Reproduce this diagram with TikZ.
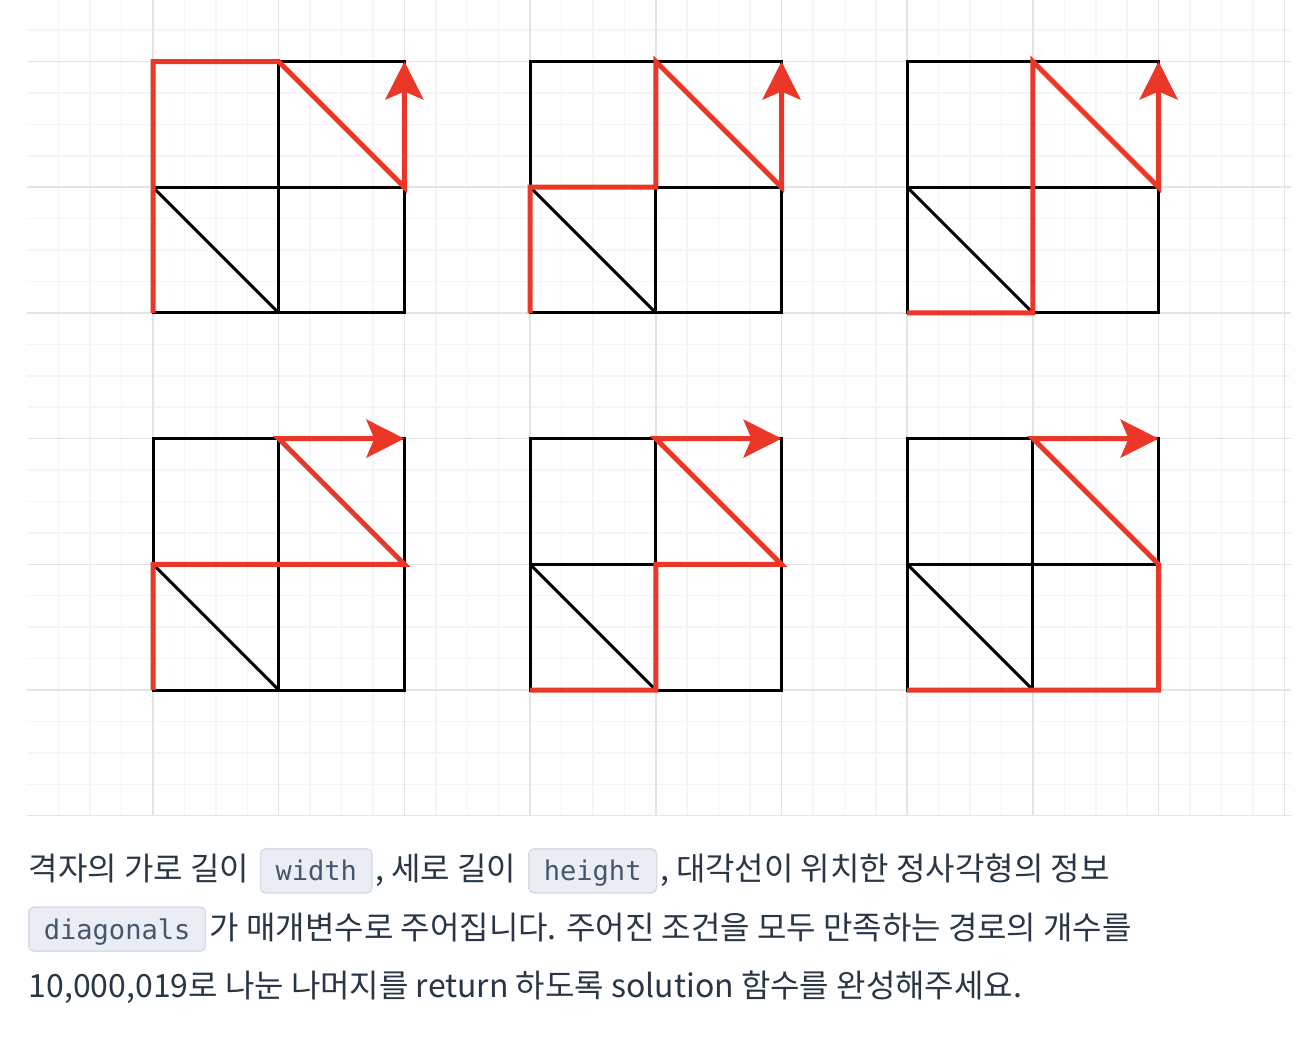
\documentclass[tikz,border=0pt]{standalone}
\usepackage{fontspec}
\usepackage{xcolor}
\usetikzlibrary{arrows.meta,positioning}
\setmainfont{Noto Sans CJK KR}
\setmonofont{DejaVu Sans Mono}

\definecolor{gridminor}{RGB}{245,245,245}
\definecolor{gridmajor}{RGB}{228,228,228}
\definecolor{routered}{RGB}{234,55,40}
\definecolor{ink}{RGB}{40,54,70}
\definecolor{codeink}{RGB}{68,87,108}
\definecolor{codefill}{RGB}{234,237,243}
\definecolor{codeline}{RGB}{214,221,231}

\tikzset{
  minor/.style={draw=gridminor, line width=0.015cm},
  major/.style={draw=gridmajor, line width=0.015cm},
  edge/.style={draw=black, line width=0.03cm},
  route/.style={draw=routered, line width=0.05cm},
  tip/.style={-{Stealth[length=0.38cm,width=0.38cm,inset=0.08cm]}},
  txt/.style={inner sep=0pt, text=ink, font=\fontsize{9.1}{11}\selectfont},
  code/.style={draw=codeline, fill=codefill, line width=0.015cm, rounded corners=0.05cm,
    text=codeink, font=\ttfamily\fontsize{7.7}{9}\selectfont,
    inner xsep=0.15cm, inner ysep=0pt, text height=0.32cm, text depth=0.12cm}
}

\begin{document}
\begin{tikzpicture}[x=1.257cm, y=1.257cm]
\useasboundingbox (-1.2172,-2.8162) rectangle (9.2045,5.4893);

% Draw the background grid
\foreach \i in {-3,...,36} {
  \draw[minor] (\i/4,-1) -- (\i/4,5.4893);
}
\foreach \j in {-4,...,21} {
  \draw[minor] (-1,\j/4) -- (9.05,\j/4);
}
\foreach \i in {0,...,9} {
  \draw[major] (\i,-1) -- (\i,5.4893);
}
\foreach \j in {-1,...,5} {
  \draw[major] (-1,\j) -- (9.05,\j);
}

% Draw the six 2x2 boards
\foreach \px/\py in {0/3,3/3,6/3,0/0,3/0,6/0} {
  \begin{scope}[shift={(\px,\py)}]
    \draw[edge] (0,0) rectangle (2,2);
    \draw[edge] (1,0) -- (1,2);
    \draw[edge] (0,1) -- (2,1);
    \draw[edge] (0,1) -- (1,0);
  \end{scope}
}

% Draw the paths, top row
\draw[route,tip] (0,3) -- (0,5) -- (1,5) -- (2,4) -- (2,5);
\draw[route,tip] (3,3) -- (3,4) -- (4,4) -- (4,5) -- (5,4) -- (5,5);
\draw[route,tip] (6,3) -- (7,3) -- (7,5) -- (8,4) -- (8,5);

% Draw the paths, bottom row
\draw[route,tip] (0,0) -- (0,1) -- (2,1) -- (1,2) -- (2,2);
\draw[route,tip] (3,0) -- (4,0) -- (4,1) -- (5,1) -- (4,2) -- (5,2);
\draw[route,tip] (6,0) -- (8,0) -- (8,1) -- (7,2) -- (8,2);

% Add the text
\node[txt, anchor=base west] (l1a) at (-0.994,-1.519) {격자의 가로 길이};
\node[code, anchor=base west] (width) at ([xshift=0.10cm]l1a.base east) {width};
\node[txt, anchor=base west] (l1b) at ([xshift=0.02cm]width.base east) {, 세로 길이};
\node[code, anchor=base west] (height) at ([xshift=0.11cm]l1b.base east) {height};
\node[txt, anchor=base west] (l1c) at ([xshift=0.02cm]height.base east) {, 대각선이 위치한 정사각형의 정보};

\node[code, anchor=base west] (diag) at (-0.994,-1.981) {diagonals};
\node[txt, anchor=base west] (l2) at ([xshift=0.03cm]diag.base east) {가 매개변수로 주어집니다. 주어진 조건을 모두 만족하는 경로의 개수를};

\node[txt, anchor=base west] (l3) at (-0.994,-2.443) {10,000,019로 나눈 나머지를 return 하도록 solution 함수를 완성해주세요.};
\end{tikzpicture}
\end{document}
